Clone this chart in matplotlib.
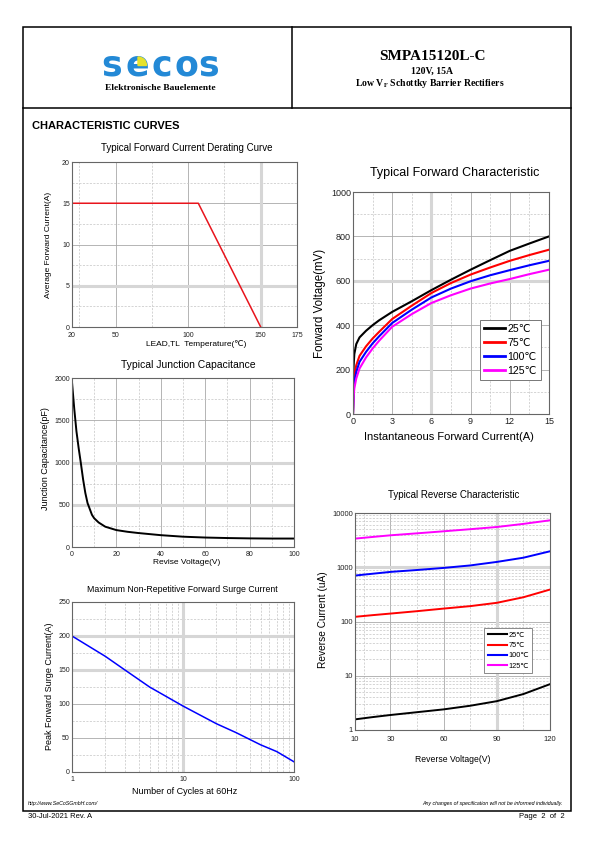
import numpy as np
import matplotlib
matplotlib.use("Agg")
import matplotlib.pyplot as plt
from matplotlib.patches import Rectangle, Wedge
from matplotlib.ticker import FixedLocator, FixedFormatter, NullFormatter

# ---- values ----
derate_temp = [20, 107, 150]
derate_curr = [15, 15, 0]

fwd_current = [0, 0.05, 0.1, 0.25, 0.5, 1, 1.5, 2, 3, 4.5, 6, 7.5, 9, 10.5, 12, 13.5, 15]
fwd_25 = [0, 220, 270, 315, 345, 375, 400, 422, 460, 508, 558, 605, 650, 693, 735, 768, 800]
fwd_75 = [0, 140, 175, 220, 262, 305, 340, 370, 428, 488, 545, 590, 628, 660, 690, 716, 740]
fwd_100 = [0, 110, 145, 190, 235, 280, 318, 350, 410, 470, 525, 565, 598, 625, 648, 670, 690]
fwd_125 = [0, 80, 115, 160, 205, 255, 295, 330, 393, 450, 500, 535, 565, 588, 608, 630, 650]

cap_voltage = [0, 1, 2, 3, 4, 5, 6, 7, 8, 9, 10, 12, 15, 20, 25, 30, 40, 50, 60, 70, 80, 90, 100]
cap_pf = [1950, 1640, 1370, 1170, 990, 800, 640, 520, 450, 380, 340, 290, 240, 200, 180, 165,
          140, 122, 112, 106, 102, 100, 100]

surge_cycles = [1, 2, 3, 5, 10, 20, 30, 50, 70, 100]
surge_amps = [200, 170, 150, 125, 97, 71, 58, 40, 30, 15]

rev_voltage = [10, 20, 30, 45, 60, 75, 90, 105, 120]
rev_25 = [1.57, 1.73, 1.89, 2.13, 2.4, 2.8, 3.4, 4.6, 7.0]
rev_75 = [122, 131, 140, 155, 173, 192, 221, 280, 388]
rev_100 = [703, 760, 821, 890, 972, 1080, 1254, 1500, 1969]
rev_125 = [3373, 3620, 3880, 4220, 4600, 5030, 5520, 6300, 7330]

temp_labels = ["25℃", "75℃", "100℃", "125℃"]
temp_colors = ["black", "red", "blue", "magenta"]

SANS = ["Liberation Sans", "DejaVu Sans"]
SERIF = ["Liberation Serif", "DejaVu Serif"]
plt.rcParams["font.family"] = SANS
plt.rcParams["mathtext.fontset"] = "custom"
plt.rcParams["mathtext.bf"] = "Liberation Serif:bold"

W, H = 595, 842
fig = plt.figure(figsize=(W / 100, H / 100), dpi=100)

# page layer in pixel coordinates
page = fig.add_axes([0, 0, 1, 1])
page.set_xlim(0, W)
page.set_ylim(H, 0)
page.axis("off")


def box(l, t, r, b):
    return [l / W, 1 - b / H, (r - l) / W, (b - t) / H]


def style_axes(ax, fs, xpad=3):
    for s in ax.spines.values():
        s.set_color("#666666")
        s.set_linewidth(0.8)
    ax.tick_params(which="both", length=0, labelsize=fs, colors="#222222", pad=1.5)
    ax.tick_params(axis="x", pad=xpad)
    ax.grid(which="major", color="#a8a8a8", lw=0.6, ls="-")
    ax.grid(which="minor", color="#c4c4c4", lw=0.5, ls=(0, (3, 2)))
    ax.set_axisbelow(True)


def heavy(ax, xs=(), ys=()):
    for x in xs:
        ax.axvline(x, color="#d6d6d6", lw=2.2, zorder=0.6)
    for y in ys:
        ax.axhline(y, color="#d6d6d6", lw=2.2, zorder=0.6)


# ---- page frame & header ----
page.add_patch(Rectangle((23, 27), 548, 784, fill=False, lw=1.1, ec="black"))
page.plot([23, 571], [108, 108], color="black", lw=1.1)
page.plot([292, 292], [27, 108], color="black", lw=1.1)

for ch, cx in zip("secos", [112, 137, 162, 186, 209]):
    page.text(cx, 75.5, ch, color="#2389d6", fontsize=25, fontweight="bold",
              family="DejaVu Sans", ha="center", va="baseline")
page.add_patch(Wedge((138, 65.5), 8.5, 270, 360, color="#e6e22c", zorder=5))
page.text(160, 88, "Elektronische Bauelemente", family=SERIF, fontweight="bold",
          fontsize=6.8, ha="center", va="center")

page.text(432, 57, "SMPA15120L-C", family=SERIF, fontweight="bold", fontsize=11,
          ha="center", va="center")
page.text(432, 71, "120V, 15A", family=SERIF, fontweight="bold", fontsize=7,
          ha="center", va="center")
page.text(430, 83, r"Low V$_\mathbf{F}$ Schottky Barrier Rectifiers", family=SERIF,
          fontweight="bold", fontsize=7, ha="center", va="center")

page.text(32, 126, "CHARACTERISTIC CURVES", fontweight="bold", fontsize=8, va="center")

page.text(28, 803, "http://www.SeCoSGmbH.com/", fontsize=3.8, style="italic", va="center")
page.text(563, 803, "Any changes of specification will not be informed individually.",
          fontsize=3.8, style="italic", va="center", ha="right")
page.text(28, 817, "30-Jul-2021 Rev. A", fontsize=5.5, va="center")
page.text(565, 817, "Page  2  of  2", fontsize=5.5, va="center", ha="right")

# ---- derating curve ----
ax1 = fig.add_axes(box(72, 162, 297, 327))
style_axes(ax1, 5, xpad=3.5)
ax1.set_xlim(20, 175)
ax1.set_ylim(0, 20)
ax1.xaxis.set_major_locator(FixedLocator([20, 50, 100, 150, 175]))
ax1.xaxis.set_minor_locator(FixedLocator([25, 75, 125]))
ax1.yaxis.set_major_locator(FixedLocator([0, 5, 10, 15, 20]))
ax1.yaxis.set_minor_locator(FixedLocator([2.5, 7.5, 12.5, 17.5]))
heavy(ax1, xs=[150], ys=[5])
ax1.plot(derate_temp, derate_curr, color="#e8141c", lw=1.1)
page.text(187, 148, "Typical Forward Current Derating Curve", fontsize=7, ha="center", va="center")
page.text(48, 245, "Average Forward Current(A)", fontsize=6, rotation=90, ha="center", va="center")
page.text(196, 344, "LEAD,TL  Temperature(℃)", fontsize=6, ha="center", va="center")

# ---- forward characteristic ----
ax2 = fig.add_axes(box(353, 192, 549, 414))
style_axes(ax2, 6.5, xpad=2)
ax2.set_xlim(0, 15)
ax2.set_ylim(0, 1000)
ax2.xaxis.set_major_locator(FixedLocator(np.arange(0, 16, 3)))
ax2.xaxis.set_minor_locator(FixedLocator(np.arange(1.5, 15, 3)))
ax2.yaxis.set_major_locator(FixedLocator(np.arange(0, 1001, 200)))
ax2.yaxis.set_minor_locator(FixedLocator(np.arange(100, 1000, 200)))
heavy(ax2, xs=[6], ys=[600])
for vals, lab, col in zip([fwd_25, fwd_75, fwd_100, fwd_125], temp_labels, temp_colors):
    ax2.plot(fwd_current, vals, color=col, lw=1.5, label=lab)
leg = ax2.legend(loc="lower right", bbox_to_anchor=(0.96, 0.153), borderaxespad=0,
                 fontsize=7.6, handlelength=2.0, handletextpad=0.25, labelspacing=0.38,
                 borderpad=0.4, fancybox=False, framealpha=1, edgecolor="#777777")
leg.get_frame().set_linewidth(0.7)
for h in leg.get_lines():
    h.set_linewidth(2)
page.text(455, 173, "Typical Forward Characteristic", fontsize=9, ha="center", va="center")
page.text(320, 303, "Forward Voltage(mV)", fontsize=8.3, rotation=90, ha="center", va="center")
page.text(449, 437, "Instantaneous Forward Current(A)", fontsize=8, ha="center", va="center")

# ---- junction capacitance ----
ax3 = fig.add_axes(box(72, 378, 294, 547))
style_axes(ax3, 5)
ax3.set_xlim(0, 100)
ax3.set_ylim(0, 2000)
ax3.xaxis.set_major_locator(FixedLocator(np.arange(0, 101, 20)))
ax3.xaxis.set_minor_locator(FixedLocator(np.arange(10, 100, 20)))
ax3.yaxis.set_major_locator(FixedLocator(np.arange(0, 2001, 500)))
ax3.yaxis.set_minor_locator(FixedLocator(np.arange(250, 2000, 500)))
heavy(ax3, ys=[500, 1000])
ax3.plot(cap_voltage, cap_pf, color="black", lw=1.4)
page.text(188, 365, "Typical Junction Capacitance", fontsize=7.5, ha="center", va="center")
page.text(45, 459, "Junction Capacitance(pF)", fontsize=6.5, rotation=90, ha="center", va="center")
page.text(187, 563, "Revise Voltage(V)", fontsize=6, ha="center", va="center")

# ---- surge current ----
ax4 = fig.add_axes(box(72, 602, 294, 772))
style_axes(ax4, 5)
ax4.set_xscale("log")
ax4.set_xlim(1, 100)
ax4.set_ylim(0, 250)
ax4.xaxis.set_major_locator(FixedLocator([1, 10, 100]))
ax4.xaxis.set_major_formatter(FixedFormatter(["1", "10", "100"]))
ax4.xaxis.set_minor_locator(FixedLocator([m * d for d in (1, 10) for m in range(2, 10)]))
ax4.xaxis.set_minor_formatter(NullFormatter())
ax4.yaxis.set_major_locator(FixedLocator(np.arange(0, 251, 50)))
ax4.yaxis.set_minor_locator(FixedLocator(np.arange(25, 250, 50)))
heavy(ax4, xs=[10], ys=[150, 200])
ax4.plot(surge_cycles, surge_amps, color="blue", lw=1.1)
page.text(182, 589, "Maximum Non-Repetitive Forward Surge Current", fontsize=6.3, ha="center", va="center")
page.text(49, 686, "Peak Forward Surge Current(A)", fontsize=6.5, rotation=90, ha="center", va="center")
page.text(185, 791, "Number of Cycles at 60Hz", fontsize=6.5, ha="center", va="center")

# ---- reverse characteristic ----
ax5 = fig.add_axes(box(355, 513, 550, 730))
style_axes(ax5, 5.5, xpad=4)
ax5.set_yscale("log")
ax5.set_xlim(10, 120)
ax5.set_ylim(1, 10000)
ax5.xaxis.set_major_locator(FixedLocator([10, 30, 60, 90, 120]))
ax5.xaxis.set_minor_locator(FixedLocator([15, 45, 75, 105]))
ax5.yaxis.set_major_locator(FixedLocator([1, 10, 100, 1000, 10000]))
ax5.yaxis.set_major_formatter(FixedFormatter(["1", "10", "100", "1000", "10000"]))
ax5.yaxis.set_minor_locator(FixedLocator([m * d for d in (1, 10, 100, 1000) for m in range(2, 10)]))
ax5.yaxis.set_minor_formatter(NullFormatter())
heavy(ax5, xs=[90], ys=[1000])
for vals, lab, col in zip([rev_25, rev_75, rev_100, rev_125], temp_labels, temp_colors):
    ax5.plot(rev_voltage, vals, color=col, lw=1.4, label=lab)
leg2 = ax5.legend(loc="lower right", bbox_to_anchor=(0.908, 0.263), borderaxespad=0,
                  fontsize=5.3, handlelength=2.6, handletextpad=0.2, labelspacing=0.42,
                  borderpad=0.45, fancybox=False, framealpha=1, edgecolor="#777777")
leg2.get_frame().set_linewidth(0.6)
for h in leg2.get_lines():
    h.set_linewidth(1.5)
page.text(454, 495, "Typical Reverse Characteristic", fontsize=7, ha="center", va="center")
page.text(323, 620, "Reverse Current (uA)", fontsize=7.3, rotation=90, ha="center", va="center")
page.text(453, 759, "Reverse Voltage(V)", fontsize=6.2, ha="center", va="center")

fig.savefig("out.png", dpi=100)
